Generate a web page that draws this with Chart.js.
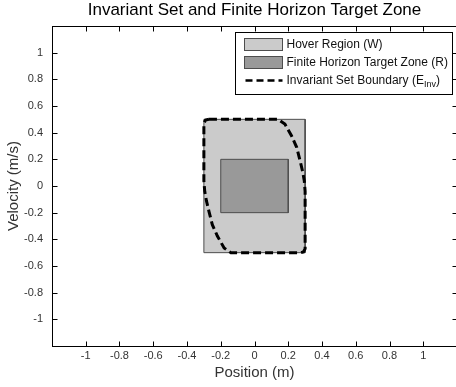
<!DOCTYPE html>
<html>
<head>
<meta charset="utf-8">
<script src="https://cdn.jsdelivr.net/npm/chart.js@4.4.1/dist/chart.umd.min.js"></script>
<style>
  html, body { margin:0; padding:0; background:#fff; overflow:hidden; }
</style>
</head>
<body>
<canvas id="chart" width="470" height="387" style="width:470px;height:387px;display:block"></canvas>
<script>
"use strict";
// tick values (axis limits are +/-1.2)
const xTicks = [-1, -0.8, -0.6, -0.4, -0.2, 0, 0.2, 0.4, 0.6, 0.8, 1];
const yTicks = [-1, -0.8, -0.6, -0.4, -0.2, 0, 0.2, 0.4, 0.6, 0.8, 1];

// hover region W
const hoverX = [-0.3, 0.3, 0.3, -0.3, -0.3];
const hoverY = [0.5, 0.5, -0.5, -0.5, 0.5];
// finite horizon target zone R
const targetX = [-0.2, 0.2, 0.2, -0.2, -0.2];
const targetY = [0.2, 0.2, -0.2, -0.2, 0.2];
// invariant set boundary
const boundX = [-0.27, 0.14, 0.18, 0.22, 0.25, 0.27, 0.285, 0.295, 0.3, 0.3, 0.29, 0.275,
                -0.14, -0.18, -0.22, -0.25, -0.27, -0.285, -0.295, -0.3, -0.3, -0.29, -0.27];
const boundY = [0.5, 0.5, 0.465, 0.375, 0.29, 0.19, 0.11, 0.04, -0.04, -0.47, -0.495, -0.5,
                -0.5, -0.465, -0.375, -0.29, -0.19, -0.11, -0.04, 0.04, 0.47, 0.495, 0.5];

const labels = ['Hover Region (W)', 'Finite Horizon Target Zone (R)', 'Invariant Set Boundary (E', 'Inv', ')'];

const FONT = "'Liberation Sans', Arial, Helvetica, sans-serif";
const C_HOVER = '#cbcbcb', C_TARGET = '#999999', C_EDGE = '#4d4d4d';

function pts(xs, ys) { return xs.map((x, i) => ({ x, y: ys[i] })); }

const frame = {
  id: 'frame',
  afterDraw(chart) {
    const { ctx, chartArea: ca, scales: { x, y } } = chart;
    ctx.save();
    // box + inward ticks (matlab style)
    ctx.strokeStyle = '#000'; ctx.lineWidth = 1;
    const L = Math.round(ca.left) + 0.5, T = Math.round(ca.top) + 0.5;
    const R = Math.round(ca.right) + 0.5, B = Math.round(ca.bottom) + 0.5;
    ctx.strokeRect(L, T, R - L, B - T);
    ctx.beginPath();
    xTicks.forEach(v => {
      const px = Math.round(x.getPixelForValue(v)) + 0.5;
      ctx.moveTo(px, B); ctx.lineTo(px, B - 5);
      ctx.moveTo(px, T); ctx.lineTo(px, T + 5);
    });
    yTicks.forEach(v => {
      const py = Math.round(y.getPixelForValue(v)) + 0.5;
      ctx.moveTo(L, py); ctx.lineTo(L + 5, py);
      ctx.moveTo(R, py); ctx.lineTo(R - 5, py);
    });
    ctx.stroke();

    // legend
    const lx = 235.5, ly = 32.5, lw = 217, lh = 62;
    ctx.fillStyle = '#fff';
    ctx.fillRect(lx, ly, lw, lh);
    ctx.strokeStyle = '#000';
    ctx.strokeRect(lx, ly, lw, lh);

    const sx = lx + 9, sw = 38, tx = lx + 51;
    const rows = [ly + 12, ly + 30, ly + 48];
    [C_HOVER, C_TARGET].forEach((c, i) => {
      ctx.fillStyle = c;
      ctx.fillRect(sx, rows[i] - 6, sw, 12);
      ctx.strokeStyle = C_EDGE;
      ctx.strokeRect(sx, rows[i] - 6, sw, 12);
    });
    ctx.save();
    ctx.strokeStyle = '#000'; ctx.lineWidth = 2.5; ctx.setLineDash([7, 4]);
    ctx.beginPath(); ctx.moveTo(sx + 1, rows[2]); ctx.lineTo(sx + sw, rows[2]); ctx.stroke();
    ctx.restore();

    ctx.fillStyle = '#111';
    ctx.textBaseline = 'middle';
    ctx.font = `12px ${FONT}`;
    ctx.fillText(labels[0], tx, rows[0]);
    ctx.fillText(labels[1], tx, rows[1]);
    ctx.fillText(labels[2], tx, rows[2]);
    let w = ctx.measureText(labels[2]).width;
    ctx.font = `9px ${FONT}`;
    ctx.fillText(labels[3], tx + w, rows[2] + 4);
    w += ctx.measureText(labels[3]).width;
    ctx.font = `12px ${FONT}`;
    ctx.fillText(labels[4], tx + w, rows[2]);
    ctx.restore();
  }
};

new Chart(document.getElementById('chart').getContext('2d'), {
  type: 'scatter',
  data: {
    datasets: [
      {
        label: labels[2],
        data: pts(boundX, boundY),
        showLine: true, fill: false, tension: 0,
        borderColor: '#000', borderWidth: 3, borderDash: [8, 4],
        pointRadius: 0, order: 0
      },
      {
        label: labels[1],
        data: pts(targetX, targetY),
        showLine: true, fill: 'shape', tension: 0,
        backgroundColor: C_TARGET, borderColor: C_EDGE, borderWidth: 1,
        pointRadius: 0, order: 1
      },
      {
        label: labels[0],
        data: pts(hoverX, hoverY),
        showLine: true, fill: 'shape', tension: 0,
        backgroundColor: C_HOVER, borderColor: C_EDGE, borderWidth: 1,
        pointRadius: 0, order: 2
      }
    ]
  },
  options: {
    responsive: false,
    animation: false,
    layout: { padding: { left: 0, right: 13, top: 0, bottom: 0 } },
    plugins: {
      legend: { display: false },
      tooltip: { enabled: false },
      title: {
        display: true, fullSize: false,
        text: 'Invariant Set and Finite Horizon Target Zone',
        color: '#000',
        font: { family: FONT, size: 17, weight: 'normal', lineHeight: 1.2 },
        padding: { top: 0, bottom: 5.6 }
      }
    },
    scales: {
      x: {
        type: 'linear', min: -1.2, max: 1.2,
        afterBuildTicks: s => { s.ticks = xTicks.map(v => ({ value: v })); },
        afterFit: s => { s.height = 41; },
        grid: { display: false, drawTicks: false },
        border: { display: false },
        ticks: { color: '#333', font: { family: FONT, size: 11 }, padding: 3, autoSkip: false, maxRotation: 0, callback: v => String(v) },
        title: { display: true, text: 'Position (m)', color: '#333', font: { family: FONT, size: 15 }, padding: { top: 0, bottom: 5 } }
      },
      y: {
        type: 'linear', min: -1.2, max: 1.2,
        afterBuildTicks: s => { s.ticks = yTicks.map(v => ({ value: v })); },
        afterFit: s => { s.width = 52; },
        grid: { display: false, drawTicks: false },
        border: { display: false },
        ticks: { color: '#333', font: { family: FONT, size: 11 }, padding: 9, autoSkip: false, callback: v => String(v) },
        title: { display: true, text: 'Velocity (m/s)', color: '#333', font: { family: FONT, size: 15 }, padding: { top: 5, bottom: 0 } }
      }
    }
  },
  plugins: [frame]
});
</script>
</body>
</html>
